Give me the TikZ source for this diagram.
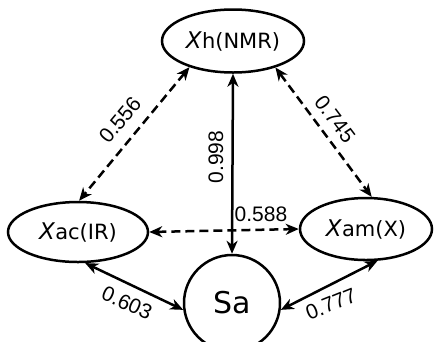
\documentclass[tikz,border=0pt]{standalone}
\usepackage{fontspec}
\setmainfont{DejaVu Sans}
\newfontfamily\labfam{Liberation Sans}
\usetikzlibrary{arrows.meta,shapes.geometric}
\newcommand\labfont{\labfam\fontsize{21}{24}\selectfont}
\newcommand\nodefont{\fontsize{21}{24}\selectfont}
\newcommand\safont{\fontsize{30}{34}\selectfont}
\newcommand\bigx{{\fontsize{23}{24}\selectfont\textit{X}}}
\begin{document}
\begin{tikzpicture}[x=1pt,y=-1pt,
  oval/.style={draw,line width=2.5pt,ellipse,inner sep=0pt},
  link/.style={line width=2.5pt,{Stealth[length=13pt,width=11pt,inset=4pt]}-{Stealth[length=13pt,width=11pt,inset=4pt]}},
  dlink/.style={link,dash pattern=on 9pt off 5pt},
  lab/.style={font=\labfont,inner sep=1pt}]
\useasboundingbox (0,0) rectangle (435,341);
\node[oval,minimum width=142pt,minimum height=63pt,font=\nodefont] (h) at (233,41) {\bigx h(NMR)};
\node[oval,minimum width=140pt,minimum height=60pt,font=\nodefont] (ac) at (78,232) {\bigx ac(IR)};
\node[oval,minimum width=132pt,minimum height=62pt,font=\nodefont] (am) at (366,229) {\bigx am(X)};
\node[draw,line width=2.5pt,circle,minimum size=96pt,inner sep=0pt,font=\safont] (sa) at (232,303) {Sa};
\draw[link] (h.south) -- (sa.north);
\draw[dlink] (ac.east) -- (am.west);
\draw[dlink] (h.211) -- (ac.88);
\draw[dlink] (h.328) -- (am.80);
\draw[link] (ac.283) -- (sa.188);
\draw[link] (sa.352) -- (am.290);
\node[lab,rotate=50] (l556) at (120,120) {0.556};
\node[lab,rotate=-53] (l745) at (335,119) {0.745};
\node[lab,rotate=90] (l998) at (216,157) {0.998};
\node[lab] (l588) at (261,214) {0.588};
\node[lab,rotate=-24] (l603) at (127,303) {0.603};
\node[lab,rotate=22] (l777) at (331,304) {0.777};
\end{tikzpicture}
\end{document}
